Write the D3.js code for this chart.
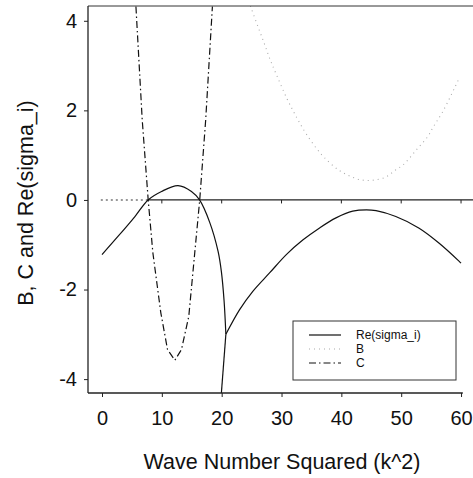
<!DOCTYPE html>
<html>
<head>
<meta charset="utf-8">
<script src="https://cdn.jsdelivr.net/npm/d3@7"></script>
<style>
  body { margin: 0; background: #fff; }
  text { font-family: "Liberation Sans", Arial, sans-serif; fill: #111; }
</style>
</head>
<body>
<div id="chart"></div>
<script>
// values
var xTicks = [0, 10, 20, 30, 40, 50, 60];
var yTicks = [-4, -2, 0, 2, 4];

// Re(sigma_i): left hump, the drop below the frame, right hump
var reLeftK = [0, 2.7, 5.5, 7.7, 9.95, 12.7, 14.95, 16.3, 18, 19.4, 19.95, 20.4, 20.7];
var reLeftV = [-1.22, -0.81, -0.37, 0, 0.19, 0.32, 0.19, 0, -0.5, -1.15, -1.6, -2.25, -3.0];
var reDropK = [20.7, 19.95];
var reDropV = [-3.0, -4.31];
var reRightK = [20.7, 23, 25.2, 28, 30.8, 33.6, 36.3, 39.1, 41.9, 44.2, 45.8, 49.1, 53, 56.3, 59.7, 60];
var reRightV = [-3.0, -2.45, -2.04, -1.63, -1.22, -0.89, -0.63, -0.40, -0.25, -0.22, -0.24, -0.37, -0.63, -0.96, -1.37, -1.41];

// B
var bLowK = [-0.2, 7.6];
var bLowV = [0, 0];
var bK = [24.8, 26.05, 27.1, 28.05, 29.2, 30.95, 31.9, 32.9, 34.2, 35.9, 37.2, 39.4, 41.3, 43.2, 45.2, 47.4, 49.05, 50.3, 52.55, 54.4, 55.4, 56.9, 59.1, 59.8];
var bV = [4.33, 3.875, 3.50, 3.15, 2.78, 2.25, 2.0, 1.75, 1.46, 1.14, 0.94, 0.68, 0.54, 0.45, 0.44, 0.51, 0.67, 0.78, 1.12, 1.41, 1.64, 1.96, 2.55, 2.75];

// C
var cK = [5.67, 6.72, 7.72, 8.5, 9.83, 10.95, 12.17, 13.28, 14.5, 15.5, 16.33, 17.33, 18.45];
var cV = [4.32, 1.79, 0.0, -1.18, -2.52, -3.34, -3.58, -3.34, -2.60, -1.18, 0.0, 1.79, 4.32];

var legendNames = ["Re(sigma_i)", "B", "C"];

var width = 473, height = 478;
var padL = 88, padR = 473, padT = 6, padB = 393;

var svg = d3.select("#chart").append("svg")
  .attr("width", width)
  .attr("height", height);

var x = d3.scaleLinear().domain([-2.34, 62]).range([padL, padR]);
var y = d3.scaleLinear().domain([-4.31, 4.33]).range([padB, padT]);

function pairs(ks, vs) { return ks.map(function(k, i) { return [k, vs[i]]; }); }

svg.append("clipPath").attr("id", "clip")
  .append("rect")
  .attr("x", padL).attr("y", padT)
  .attr("width", padR - padL).attr("height", padB - padT);

var plot = svg.append("g").attr("clip-path", "url(#clip)");

var smooth = d3.line()
  .x(function(d) { return x(d[0]); })
  .y(function(d) { return y(d[1]); })
  .curve(d3.curveCatmullRom);
var straight = d3.line()
  .x(function(d) { return x(d[0]); })
  .y(function(d) { return y(d[1]); });

var styles = {
  re: { stroke: "#111", width: 1.2, dash: null },
  b:  { stroke: "#aaa", width: 1.1, dash: "1,4" },
  c:  { stroke: "#111", width: 1.2, dash: "7,3,1.5,3" }
};

function draw(data, gen, s) {
  plot.append("path")
    .attr("d", gen(data))
    .attr("fill", "none")
    .attr("stroke", s.stroke)
    .attr("stroke-width", s.width)
    .attr("stroke-dasharray", s.dash);
}

// zero reference line, dotted at the far left
plot.append("line")
  .attr("x1", x(7.6)).attr("x2", padR)
  .attr("y1", y(0)).attr("y2", y(0))
  .attr("stroke", "#222").attr("stroke-width", 1.2);
plot.selectAll(".ztick")
  .data(xTicks.slice(1))
  .enter().append("line")
  .attr("x1", function(d) { return x(d); }).attr("x2", function(d) { return x(d); })
  .attr("y1", y(0)).attr("y2", y(0) + 3.5)
  .attr("stroke", "#222").attr("stroke-width", 1);

draw(pairs(bLowK, bLowV), straight, { stroke: "#333", width: 1.1, dash: "2,3" });
draw(pairs(bK, bV), smooth, styles.b);
draw(pairs(cK, cV), straight, styles.c);
draw(pairs(reLeftK, reLeftV), smooth, styles.re);
draw(pairs(reDropK, reDropV), straight, styles.re);
draw(pairs(reRightK, reRightV), smooth, styles.re);

// frame: top edge
svg.append("line")
  .attr("x1", padL).attr("x2", padR)
  .attr("y1", padT).attr("y2", padT)
  .attr("stroke", "#333").attr("stroke-width", 1);

// axes
var yAxis = d3.axisLeft(y).tickValues(yTicks).tickSize(4).tickPadding(7)
  .tickFormat(function(d) { return String(d); });
var gy = svg.append("g")
  .attr("transform", "translate(" + padL + ",0)")
  .call(yAxis);
gy.select(".domain").remove();
gy.selectAll("text").style("font-size", "20px").attr("x", -11);

var xAxis = d3.axisBottom(x).tickValues(xTicks).tickSize(4)
  .tickFormat(function(d) { return String(d); });
var gx = svg.append("g")
  .attr("transform", "translate(0," + padB + ")")
  .call(xAxis);
gx.select(".domain").remove();
gx.selectAll("text").style("font-size", "20px").attr("dy", null).attr("y", 32);

svg.selectAll(".tick line").attr("stroke", "#222");

svg.append("line")
  .attr("x1", padL).attr("x2", padL)
  .attr("y1", padT).attr("y2", padB)
  .attr("stroke", "#222").attr("stroke-width", 1.3);
svg.append("line")
  .attr("x1", padL).attr("x2", x(60.3))
  .attr("y1", padB).attr("y2", padB)
  .attr("stroke", "#222").attr("stroke-width", 1.3);

// axis titles
svg.append("text")
  .attr("x", 282).attr("y", 469)
  .attr("text-anchor", "middle")
  .style("font-size", "21.5px")
  .text("Wave Number Squared (k^2)");

svg.append("text")
  .attr("transform", "translate(33,203) rotate(-90)")
  .attr("text-anchor", "middle")
  .style("font-size", "21.5px")
  .text("B, C and Re(sigma_i)");

// legend
var legend = svg.append("g");
legend.append("rect")
  .attr("x", 293).attr("y", 321)
  .attr("width", 163).attr("height", 59)
  .attr("fill", "#fff")
  .attr("stroke", "#333").attr("stroke-width", 1);

var legendStyles = [styles.re, styles.b, styles.c];
var legendY = [335, 349, 363];

var item = legend.selectAll(".item")
  .data(legendNames)
  .enter().append("g")
  .attr("class", "item")
  .attr("transform", function(d, i) { return "translate(0," + legendY[i] + ")"; });

item.append("line")
  .attr("x1", 309).attr("x2", 341)
  .attr("stroke", function(d, i) { return legendStyles[i].stroke; })
  .attr("stroke-width", function(d, i) { return legendStyles[i].width; })
  .attr("stroke-dasharray", function(d, i) { return legendStyles[i].dash; });

item.append("text")
  .attr("x", 356).attr("y", 4)
  .style("font-size", "12px")
  .text(function(d) { return d; });
</script>
</body>
</html>
